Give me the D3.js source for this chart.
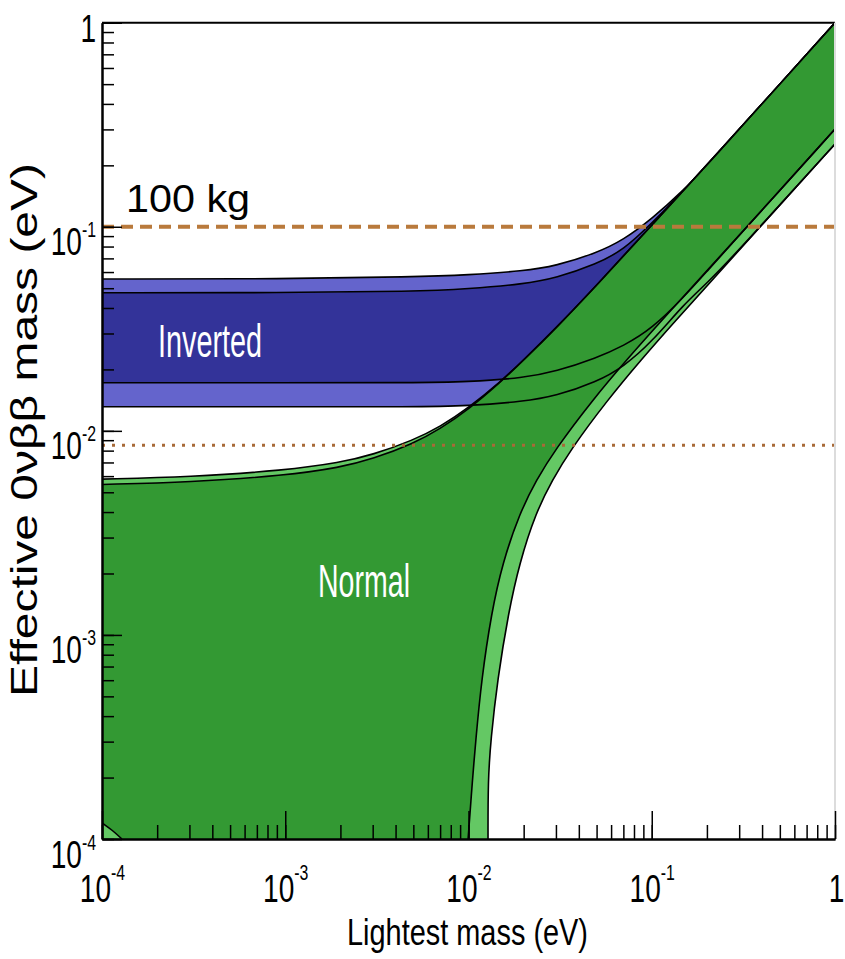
<!DOCTYPE html>
<html>
<head>
<meta charset="utf-8">
<script src="https://cdn.jsdelivr.net/npm/d3@7"></script>
<style>
  body { margin: 0; background: #fff; }
  svg { display: block; }
  text { font-family: "Liberation Sans", Arial, sans-serif; }
</style>
</head>
<body>
<svg id="chart" width="845" height="959"></svg>
<script>
// Effective 0νββ mass versus lightest neutrino mass, both in eV.

// Normal ordering: edges of the wide (light) and best-fit (dark) bands, [mass, mββ]
const nhUpperLight = [[1e-4,0.0058],[3e-4,0.00594],[1e-3,0.00641],[2e-3,0.006995],[3e-3,0.007636],[5e-3,0.009001],[7e-3,0.010474],[0.01,0.012948],[0.015,0.017458],[0.02,0.022254],[0.03,0.031854],[0.05,0.05167],[0.1,0.1018],[0.2,0.2005],[1,1]];
const nhUpperDark  = [[1e-4,0.005463],[3e-4,0.0056],[1e-3,0.00604],[2e-3,0.00662],[3e-3,0.00728],[5e-3,0.00866],[7e-3,0.01022],[0.01,0.01273],[0.015,0.01737],[0.02,0.022254],[0.03,0.031854],[0.05,0.05167],[0.1,0.1018],[0.2,0.2005],[1,1]];
const nhLowerDark  = [[1,0.301],[0.331,0.1],[0.17992,0.05487],[0.11387,0.03494],[0.07273,0.02225],[0.04749,0.01417],[0.02961,0.00806],[0.02347,0.005746],[0.01903,0.003961],[0.01533,0.002253],[0.01334,0.001282],[0.01177,0.000602],[0.01096,0.000306],[0.01051,0.000195],[0.00995,0.0001]];
const nhLowerLight = [[1,0.2544],[0.3898,0.1],[0.21459,0.05487],[0.13581,0.03494],[0.08727,0.02225],[0.05735,0.01417],[0.03598,0.00806],[0.0287,0.005746],[0.02326,0.003961],[0.01898,0.002253],[0.01651,0.001282],[0.01439,0.000602],[0.01323,0.000306],[0.01278,0.000195],[0.01278,0.0001]];
const nhCorner     = [[1.285e-4,1e-4],[1.134e-4,1.108e-4],[1e-4,0.00012]];

// Inverted ordering: edges sampled at common masses
const ihMass       = [1e-4,1e-3,5e-3,0.01,0.02,0.03,0.05,0.07,0.1,0.15,0.2,0.3,1];
const ihUpperLight = [0.0555,0.0555,0.0568,0.0581,0.0607,0.0643,0.0744,0.0862,0.1092,0.1515,0.2,0.3,1];
const ihUpperDark  = [0.0475,0.0475,0.0482,0.0496,0.0524,0.0561,0.0657,0.0769,0.104,0.1505,0.2,0.3,1];
const ihLowerDark  = [0.0172,0.0172,0.0172,0.01737,0.01816,0.01954,0.02276,0.02606,0.03157,0.04529,0.0605,0.0906,0.301];
const ihLowerLight = [0.01312,0.01312,0.0131,0.01324,0.01393,0.01483,0.01737,0.02056,0.02726,0.04185,0.0528,0.077,0.2544];

// Sensitivity levels
const sensitivity100kg = 0.1;
const sensitivityTon = 0.0085;

// Axis ticks
const decades = [1e-4,1e-3,1e-2,1e-1,1];
const decadeLabels = [["10","-4"],["10","-3"],["10","-2"],["10","-1"],["1",""]];

const plot = {left: 102, right: 835, top: 22.7, bottom: 839};

const x = d3.scaleLog().domain([1e-4, 1]).range([plot.left, plot.right]);
const y = d3.scaleLog().domain([1e-4, 1]).range([plot.bottom, plot.top]);

const svg = d3.select("#chart");

svg.append("defs").append("clipPath").attr("id", "plotClip")
  .append("rect")
  .attr("x", plot.left).attr("y", plot.top)
  .attr("width", plot.right - plot.left).attr("height", plot.bottom - plot.top);

const g = svg.append("g").attr("clip-path", "url(#plotClip)");

// Smooth B-spline through the sampled edge points
const line = d3.line().x(d => x(d[0])).y(d => y(d[1])).curve(d3.curveBasis);

function polygon(parts, corners) {
  let d = "";
  parts.forEach((p, i) => {
    const s = line(p);
    d += i === 0 ? s : s.replace(/^M/, "L");
  });
  (corners || []).forEach(c => { d += `L${x(c[0])},${y(c[1])}`; });
  return d + "Z";
}

const zip = (xs, ys) => xs.map((m, i) => [m, ys[i]]);
const ihUL = zip(ihMass, ihUpperLight);
const ihUD = zip(ihMass, ihUpperDark);
const ihLD = zip(ihMass, ihLowerDark);
const ihLL = zip(ihMass, ihLowerLight);

const colors = {
  blueLight: "#6464cc",
  blueDark: "#333399",
  greenLight: "#64c864",
  greenDark: "#339933"
};

const edge = sel => sel.attr("fill", "none").attr("stroke", "#000").attr("stroke-width", 1.6);

// Inverted bands
g.append("path").attr("d", polygon([ihUL, ihLL.slice().reverse()])).attr("fill", colors.blueLight);
g.append("path").attr("d", polygon([ihUD, ihLD.slice().reverse()])).attr("fill", colors.blueDark);
[ihUL, ihUD].forEach(c => g.append("path").attr("d", line(c)).call(edge));

// Normal bands
g.append("path").attr("d", polygon([nhUpperLight, nhLowerLight], [[1e-4, 1e-4]])).attr("fill", colors.greenLight);
g.append("path").attr("d", polygon([nhUpperDark, nhLowerDark, nhCorner])).attr("fill", colors.greenDark);

[nhUpperLight, nhUpperDark, nhLowerDark, nhLowerLight, nhCorner, ihLD, ihLL].forEach(c =>
  g.append("path").attr("d", line(c)).call(edge));

// Sensitivity lines
g.append("line")
  .attr("x1", x(1e-4)).attr("x2", x(1))
  .attr("y1", y(sensitivity100kg)).attr("y2", y(sensitivity100kg))
  .attr("stroke", "#b97a3c").attr("stroke-width", 4).attr("stroke-dasharray", "12,7");
g.append("line")
  .attr("x1", x(1e-4)).attr("x2", x(1))
  .attr("y1", y(sensitivityTon)).attr("y2", y(sensitivityTon))
  .attr("stroke", "#a86a38").attr("stroke-width", 3).attr("stroke-dasharray", "3,7");

// Frame
svg.append("line").attr("x1", plot.left).attr("x2", plot.right).attr("y1", plot.top).attr("y2", plot.top)
  .attr("stroke", "#000").attr("stroke-width", 2);
svg.append("line").attr("x1", plot.right).attr("x2", plot.right).attr("y1", plot.top).attr("y2", plot.bottom)
  .attr("stroke", "#dcdcdc").attr("stroke-width", 2);

// Minor ticks (all log ticks), then major ticks at decades
function styleAxis(sel) {
  sel.select(".domain").attr("stroke", "#000").attr("stroke-width", 2);
  sel.selectAll(".tick line").attr("stroke", "#000").attr("stroke-width", 1.5);
  sel.selectAll(".tick text").remove();
}

const xMinor = svg.append("g").attr("transform", `translate(0,${plot.bottom})`)
  .call(d3.axisBottom(x).tickValues(x.ticks()).tickSizeInner(-14).tickSizeOuter(0).tickFormat(""));
styleAxis(xMinor);
const xMajor = svg.append("g").attr("transform", `translate(0,${plot.bottom})`)
  .call(d3.axisBottom(x).tickValues(decades).tickSizeInner(-28).tickSizeOuter(0).tickFormat(""));
styleAxis(xMajor);

const yMinor = svg.append("g").attr("transform", `translate(${plot.left},0)`)
  .call(d3.axisLeft(y).tickValues(y.ticks()).tickSizeInner(-12).tickSizeOuter(0).tickFormat(""));
styleAxis(yMinor);
const yMajor = svg.append("g").attr("transform", `translate(${plot.left},0)`)
  .call(d3.axisLeft(y).tickValues(decades).tickSizeInner(-20).tickSizeOuter(0).tickFormat(""));
styleAxis(yMajor);

// Decade labels with superscript exponents, condensed horizontally
function decadeLabel(sel, lab, anchor, raise) {
  const t = sel.append("text")
    .attr("text-anchor", anchor)
    .attr("font-size", 39)
    .attr("fill", "#000");
  t.append("tspan").text(lab[0]);
  if (lab[1]) t.append("tspan").attr("font-size", 22).attr("dy", -raise).text(lab[1]);
  return t;
}

xMajor.selectAll(".tick").each(function(d, i) {
  const t = decadeLabel(d3.select(this), decadeLabels[i], "middle", 22);
  t.attr("y", 63).attr("transform", `translate(${i === 4 ? 1 : 0},0) scale(0.72,1)`);
});
yMajor.selectAll(".tick").each(function(d, i) {
  const t = decadeLabel(d3.select(this), decadeLabels[i], "end", 18);
  t.attr("x", -6 / 0.72).attr("y", i === 4 ? 19 : 28).attr("transform", "scale(0.72,1)");
});

// Axis titles
svg.append("text")
  .attr("x", 347).attr("y", 945)
  .attr("font-size", 37).attr("textLength", 241).attr("lengthAdjust", "spacingAndGlyphs")
  .text("Lightest mass (eV)");
svg.append("text")
  .attr("transform", "translate(37,697) rotate(-90)")
  .attr("font-size", 37).attr("textLength", 534).attr("lengthAdjust", "spacingAndGlyphs")
  .text("Effective 0νββ mass (eV)");

// Annotations
svg.append("text")
  .attr("x", 126).attr("y", 212)
  .attr("font-size", 38).attr("textLength", 124).attr("lengthAdjust", "spacingAndGlyphs")
  .text("100 kg");
svg.append("text")
  .attr("x", 158).attr("y", 357).attr("fill", "#fff")
  .attr("font-size", 46).attr("textLength", 104).attr("lengthAdjust", "spacingAndGlyphs")
  .text("Inverted");
svg.append("text")
  .attr("x", 318).attr("y", 597).attr("fill", "#fff")
  .attr("font-size", 46).attr("textLength", 92).attr("lengthAdjust", "spacingAndGlyphs")
  .text("Normal");
</script>
</body>
</html>
